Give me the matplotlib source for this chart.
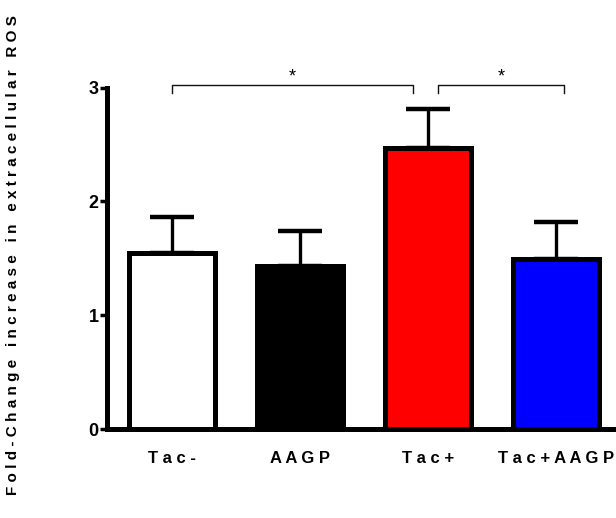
import matplotlib
matplotlib.use("Agg")
import matplotlib.pyplot as plt

plt.rcParams['font.family'] = ['Liberation Sans', 'DejaVu Sans']

# Data
groups = ["Tac-", "AAGP", "Tac+", "Tac+AAGP"]
means = [1.55, 1.43, 2.47, 1.49]
sem = [0.31, 0.31, 0.34, 0.33]
colors = ["white", "black", "#FF0000", "#0000FF"]
yticks = [0, 1, 2, 3]
ylabel = "Fold-Change increase in extracellular ROS"

# Significance brackets: (group a, group b, label, left inset, right inset)
comparisons = [(0, 2, "*", 0.0, -0.12), (2, 3, "*", 0.08, 0.06)]


def spaced(s):
    """Letter-spaced text."""
    return " ".join(s)


fig = plt.figure(figsize=(6.16, 5.18), dpi=100)
ax = fig.add_axes([0.1745, 0.1718, 0.8255, 0.7689])

x = list(range(len(groups)))

ax.errorbar(x, means, yerr=[[0] * len(sem), sem], fmt="none", ecolor="black",
            elinewidth=2.4, capsize=15.5, capthick=3.2, zorder=1)
ax.bar(x, means, width=0.67, color=colors, edgecolor="black",
       linewidth=3.6, zorder=2)

ax.set_xlim(-0.504, 3.469)
ax.set_ylim(0, 3.5)

for side in ("top", "right"):
    ax.spines[side].set_visible(False)
for side in ("left", "bottom"):
    ax.spines[side].set_linewidth(3.6)
    ax.spines[side].set_capstyle("projecting")
    ax.spines[side].set_zorder(3)
ax.spines["left"].set_bounds(0, 3)

ax.set_yticks(yticks)
ax.set_yticklabels([str(v) for v in yticks], fontsize=13, fontweight="bold")
ax.tick_params(axis="y", length=5, width=2.5, pad=1.5)

ax.set_xticks(x)
ax.set_xticklabels([spaced(g) for g in groups], fontsize=12, fontweight="bold")
ax.tick_params(axis="x", length=0, pad=16)

ax.set_ylabel(spaced(ylabel), fontsize=11, fontweight="bold")
ax.yaxis.set_label_coords(20 / 616, 1 - 255 / 518, transform=fig.transFigure)

# Brackets
y_top, y_drop = 3.027, 2.957
for a, b, lab, l_in, r_in in comparisons:
    x0, x1 = a + l_in, b + r_in
    ax.plot([x0, x0, x1, x1], [y_drop, y_top, y_top, y_drop], color="#111111",
            linewidth=1.0, clip_on=False, zorder=4)
    ax.text((x0 + x1) / 2, y_top + 0.03, lab, ha="center", va="baseline",
            fontsize=13, color="black")

fig.savefig("out.png", dpi=100)
